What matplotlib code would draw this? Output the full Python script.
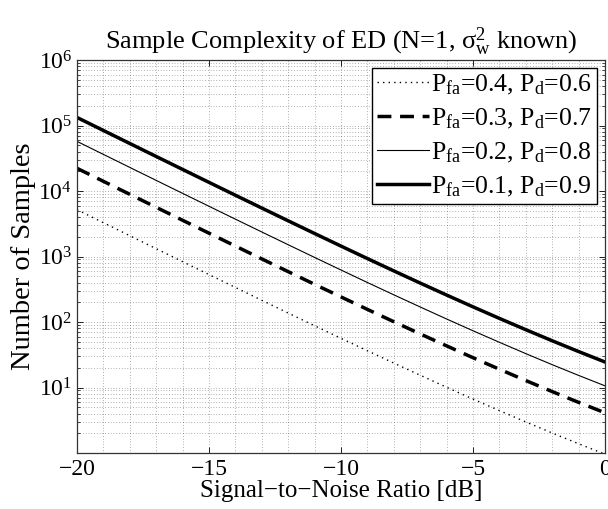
import matplotlib
matplotlib.use("Agg")
import matplotlib.pyplot as plt
from matplotlib.ticker import FixedLocator, LogLocator, MultipleLocator, NullFormatter

plt.rcParams["font.family"] = ["Liberation Serif", "DejaVu Serif"]
plt.rcParams["mathtext.fontset"] = "custom"
plt.rcParams["mathtext.rm"] = "Liberation Serif"
plt.rcParams["mathtext.it"] = "Liberation Serif:italic"
plt.rcParams["mathtext.bf"] = "Liberation Serif:bold"

# SNR grid [dB] and sample counts
snr_db = [-20, -19, -18, -17, -16, -15, -14, -13, -12, -11, -10,
          -9, -8, -7, -6, -5, -4, -3, -2, -1, 0]
n_04 = [5186, 3280, 2076, 1315, 834, 530, 337, 214.5, 137.0, 87.7, 56.4,
        36.4, 23.6, 15.4, 10.08, 6.66, 4.44, 2.98, 2.02, 1.385, 0.958]
n_03 = [22219, 14055, 8896, 5636, 3574, 2269, 1443, 919.2, 587.0, 375.9, 241.5,
        155.8, 101.0, 65.8, 43.2, 28.5, 19.0, 12.77, 8.66, 5.93, 4.11]
n_02 = [57231, 36203, 22915, 14516, 9205, 5845, 3716, 2368, 1512, 968, 622,
        401, 260, 169.6, 111.2, 73.5, 49.0, 32.9, 22.3, 15.3, 10.6]
n_01 = [132700, 83942, 53132, 33659, 21344, 13551, 8617, 5490, 3505, 2245, 1442,
        930, 603, 393, 258, 170.4, 113.5, 76.3, 51.7, 35.4, 24.5]
y_ticks = [1e1, 1e2, 1e3, 1e4, 1e5, 1e6]

labels = [r"P$_{\mathrm{fa}}$=0.4, P$_{\mathrm{d}}$=0.6",
          r"P$_{\mathrm{fa}}$=0.3, P$_{\mathrm{d}}$=0.7",
          r"P$_{\mathrm{fa}}$=0.2, P$_{\mathrm{d}}$=0.8",
          r"P$_{\mathrm{fa}}$=0.1, P$_{\mathrm{d}}$=0.9"]

fig = plt.figure(figsize=(6.08, 5.09), dpi=100)
ax = fig.add_axes([77 / 608, 56 / 509, 528 / 608, 393 / 509])

ax.plot(snr_db, n_04, color="k", lw=1.0, ls=(0, (1, 3)), label=labels[0])
ax.plot(snr_db, n_03, color="k", lw=2.5, ls=(0, (4, 2.5)), label=labels[1])
ax.plot(snr_db, n_02, color="k", lw=0.8, ls="-", label=labels[2])
ax.plot(snr_db, n_01, color="k", lw=2.5, ls="-", label=labels[3])

ax.set_yscale("log")
ax.set_xlim(-20, 0)
ax.set_ylim(1, 1e6)
ax.xaxis.set_major_locator(MultipleLocator(5))
ax.xaxis.set_minor_locator(MultipleLocator(1))
ax.yaxis.set_major_locator(FixedLocator(y_ticks))
ax.yaxis.set_minor_locator(LogLocator(base=10, subs=range(2, 10), numticks=20))
ax.yaxis.set_minor_formatter(NullFormatter())

ax.grid(True, which="both", color="k", lw=0.5, ls=(0, (1, 3)), alpha=0.6)
ax.tick_params(which="both", direction="in", top=True, right=True, labelsize=17)
ax.tick_params(which="major", length=4, width=0.6)
ax.tick_params(which="minor", length=2, width=0.5)
ax.tick_params(axis="x", which="minor", length=0)
ax.tick_params(axis="x", pad=4)
for sp in ax.spines.values():
    sp.set_linewidth(0.9)
    sp.set_color("#333333")

ax.set_title(r"Sample Complexity of ED (N=1, $\mathrm{\sigma}_{\mathrm{w}}^{2}$ known)",
             fontsize=19, pad=8)
ax.set_xlabel("Signal\u2212to\u2212Noise Ratio [dB]", fontsize=18, labelpad=0)
ax.set_ylabel("Number of Samples", fontsize=20.5, labelpad=2)

leg = ax.legend(loc="upper right", fontsize=18.5, frameon=True, fancybox=False,
                edgecolor="k", framealpha=1, handlelength=2.0, handletextpad=0.1,
                borderaxespad=0.3, borderpad=0.2, labelspacing=0.38)
leg.get_frame().set_linewidth(1.0)

fig.savefig("out.png", dpi=100)
